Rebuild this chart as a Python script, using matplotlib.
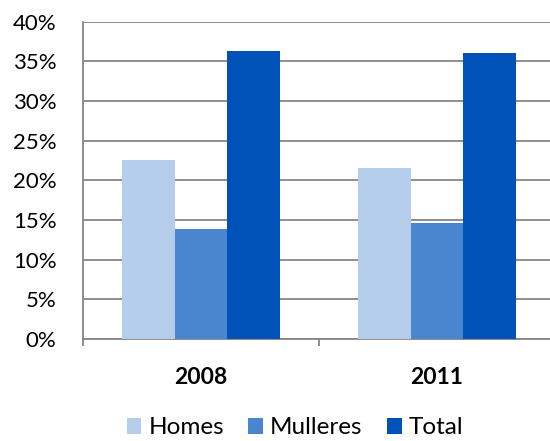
import numpy as np
import matplotlib
matplotlib.use("Agg")
from matplotlib import pyplot as plt
from matplotlib.patches import Patch
from matplotlib.ticker import PercentFormatter

# data
years = ['2008', '2011']
series_names = ['Homes', 'Mulleres', 'Total']
homes = [22.5, 21.5]
mulleres = [13.8, 14.6]
total = [36.3, 36.0]
colors = ['#B3CDEB', '#4A85D0', '#0052B8']

plt.rcParams['font.family'] = ['Lato', 'DejaVu Sans']

fig = plt.figure(figsize=(5.5, 4.41), dpi=100)
# plot area: left 83px, right edge runs past the figure, top 21.5px, bottom 339px
ax = fig.add_axes([83 / 550, 1 - 339 / 441, 472 / 550, (339 - 21.5) / 441])

x = np.arange(len(years))
width = 1 / 4.5  # Excel gap width of 150%
for i, (vals, col) in enumerate(zip([homes, mulleres, total], colors)):
    ax.bar(x + (i - 1) * width, vals, width, color=col, zorder=3)

ax.set_ylim(0, 40)
ax.set_xlim(-0.5, len(years) - 0.5)
ax.set_yticks(np.arange(0, 41, 5))
ax.yaxis.set_major_formatter(PercentFormatter(decimals=0))
ax.grid(axis='y', color='#868686', linewidth=1.3, zorder=0)

ax.set_xticks(x)
ax.set_xticklabels(years, fontweight='bold')
ax.set_xticks([-0.5, 0.5, 1.5], minor=True)
ax.tick_params(axis='x', which='major', length=0, pad=20, labelsize=16.5)
ax.tick_params(axis='x', which='minor', length=5, width=1.3, color='#868686', direction='out')
ax.tick_params(axis='y', length=0, pad=19, labelsize=16)

for side in ['top', 'right']:
    ax.spines[side].set_visible(False)
for side in ['left', 'bottom']:
    ax.spines[side].set_color('#868686')
    ax.spines[side].set_linewidth(1.3)

handles = [Patch(facecolor=c, edgecolor='none') for c in colors]
fig.legend(handles, series_names, loc='center', bbox_to_anchor=(295 / 550, 1 - 428 / 441),
           ncol=3, frameon=False, fontsize=17.5, handlelength=0.6, handleheight=0.6,
           handletextpad=0.3, columnspacing=1.0)

plt.savefig('out.png', dpi=100)
